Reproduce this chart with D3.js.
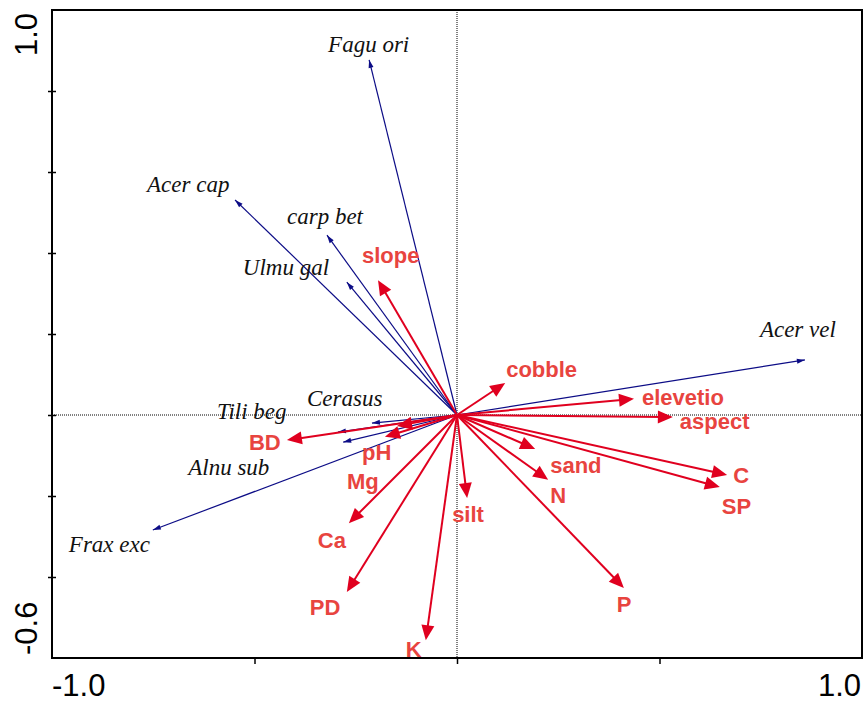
<!DOCTYPE html>
<html>
<head>
<meta charset="utf-8">
<script src="https://cdn.jsdelivr.net/npm/d3@7"></script>
<style>
  body { margin: 0; background: #fff; }
  svg { display: block; }
</style>
</head>
<body>
<svg id="chart" width="865" height="704"></svg>
<script>
// species scores (blue arrows)
const speciesNames = ["Fagu ori", "Acer cap", "carp bet", "Ulmu gal", "Acer vel", "Cerasus", "Tili beg", "Alnu sub", "Frax exc"];
const speciesX = [-0.217, -0.548, -0.321, -0.272, 0.859, -0.210, -0.294, -0.281, -0.751];
const speciesY = [0.877, 0.531, 0.444, 0.328, 0.136, -0.020, -0.042, -0.067, -0.284];

// environmental variables (red arrows)
const envNames = ["slope", "cobble", "elevetio", "aspect", "sand", "N", "C", "SP", "P", "silt", "K", "PD", "Ca", "Mg", "pH", "BD"];
const envX = [-0.195, 0.119, 0.437, 0.533, 0.193, 0.225, 0.667, 0.649, 0.412, 0.025, -0.077, -0.272, -0.267, -0.178, -0.148, -0.420];
const envY = [0.333, 0.079, 0.040, -0.005, -0.084, -0.160, -0.148, -0.178, -0.427, -0.205, -0.556, -0.437, -0.267, -0.054, -0.027, -0.062];

const xDomain = [-1.0, 1.0];
const yDomain = [-0.6, 1.0];
const xTickVals = [-0.5, 0, 0.5];
const yTickVals = [0.8, 0.6, 0.4, 0.2, 0, -0.2, -0.4];

// label offsets from arrow tip, in pixels (left x, baseline y)
const speciesLabelOff = [[-41, -8], [-88, -8], [-40, -11], [-104, -7], [-45, -23], [-65, -17], [-121, -13], [-155, 33], [-84, 22]];
const envLabelOff = [[-16, -17], [1, -6], [8, 6], [7, 12], [15, 24], [2, 23], [6, 8], [2, 27], [-7, 24], [-15, 24], [-20, 17], [-37, 23], [-31, 25], [-38, 52], [-35, 34], [-38, 10]];

const svg = d3.select("#chart");
const pLeft = 52, pRight = 862, pTop = 10, pBottom = 658;

const x = d3.scaleLinear().domain(xDomain).range([pLeft, pRight]);
const y = d3.scaleLinear().domain(yDomain).range([pBottom, pTop]);

const blue = "#0c0c86";
const red = "#e0001f";
const redText = "#e8443f";

// zero lines (dotted)
svg.append("line")
  .attr("x1", x(0)).attr("x2", x(0)).attr("y1", pTop).attr("y2", pBottom)
  .attr("stroke", "#000").attr("stroke-width", 1).attr("stroke-dasharray", "1,1");
svg.append("line")
  .attr("x1", pLeft).attr("x2", pRight).attr("y1", y(0)).attr("y2", y(0))
  .attr("stroke", "#000").attr("stroke-width", 1).attr("stroke-dasharray", "1,1");

function arrowHead(x1, y1, len, half) {
  const x0 = x(0), y0 = y(0);
  const dx = x1 - x0, dy = y1 - y0;
  const d = Math.sqrt(dx * dx + dy * dy);
  const ux = dx / d, uy = dy / d;
  const bx = x1 - ux * len, by = y1 - uy * len;
  return `M${x1},${y1}L${bx - uy * half},${by + ux * half}L${bx + uy * half},${by - ux * half}Z`;
}

// species arrows
const sp = svg.append("g");
speciesNames.forEach((n, i) => {
  const tx = x(speciesX[i]), ty = y(speciesY[i]);
  sp.append("line")
    .attr("x1", x(0)).attr("y1", y(0)).attr("x2", tx).attr("y2", ty)
    .attr("stroke", blue).attr("stroke-width", 1.2);
  sp.append("path").attr("d", arrowHead(tx, ty, 8, 2.5)).attr("fill", blue);
  sp.append("text")
    .attr("x", tx + speciesLabelOff[i][0]).attr("y", ty + speciesLabelOff[i][1])
    .attr("font-family", "'Liberation Serif', 'Times New Roman', serif")
    .attr("font-style", "italic").attr("font-size", 23).attr("fill", "#111")
    .text(n);
});

// environmental arrows
const ev = svg.append("g");
envNames.forEach((n, i) => {
  const tx = x(envX[i]), ty = y(envY[i]);
  const x0 = x(0), y0 = y(0);
  const d = Math.hypot(tx - x0, ty - y0);
  const ex = tx - (tx - x0) / d * 10, ey = ty - (ty - y0) / d * 10;
  ev.append("line")
    .attr("x1", x0).attr("y1", y0).attr("x2", ex).attr("y2", ey)
    .attr("stroke", red).attr("stroke-width", 2);
  ev.append("path").attr("d", arrowHead(tx, ty, 15, 6.5)).attr("fill", red);
});
envNames.forEach((n, i) => {
  const tx = x(envX[i]), ty = y(envY[i]);
  ev.append("text")
    .attr("x", tx + envLabelOff[i][0]).attr("y", ty + envLabelOff[i][1])
    .attr("font-family", "'Liberation Sans', Arial, sans-serif")
    .attr("font-weight", "bold").attr("font-size", 22).attr("fill", redText)
    .text(n);
});

// frame
svg.append("rect")
  .attr("x", pLeft).attr("y", pTop).attr("width", pRight - pLeft).attr("height", pBottom - pTop)
  .attr("fill", "none").attr("stroke", "#000").attr("stroke-width", 2);

// ticks
const yAxis = svg.append("g")
  .attr("transform", `translate(${pLeft + 4},0)`)
  .call(d3.axisLeft(y).tickValues(yTickVals).tickSize(8).tickFormat(""));
yAxis.select(".domain").remove();
yAxis.selectAll(".tick line").attr("stroke", "#000").attr("stroke-width", 1.5);

const xAxis = svg.append("g")
  .attr("transform", `translate(0,${pBottom})`)
  .call(d3.axisBottom(x).tickValues(xTickVals).tickSize(6).tickFormat(""));
xAxis.select(".domain").remove();
xAxis.selectAll(".tick line").attr("stroke", "#000").attr("stroke-width", 1.5);

// end labels
const fmt = v => d3.format(".1f")(v).replace("\u2212", "-");
function endLabel(t, tx, ty, anchor, rot) {
  const el = svg.append("text").attr("x", tx).attr("y", ty).attr("text-anchor", anchor)
    .attr("font-family", "'Liberation Sans', Arial, sans-serif")
    .attr("font-size", 31).attr("fill", "#000")
    .text(t);
  if (rot) el.attr("transform", `rotate(-90,${tx},${ty})`);
}
endLabel(fmt(xDomain[0]), x(xDomain[0]), 696, "start", false);
endLabel(fmt(xDomain[1]), x(xDomain[1]) - 1, 696, "end", false);
endLabel(fmt(yDomain[1]), 37, y(yDomain[1]) + 3, "end", true);
endLabel(fmt(yDomain[0]), 37, y(yDomain[0]) - 3, "start", true);
</script>
</body>
</html>
